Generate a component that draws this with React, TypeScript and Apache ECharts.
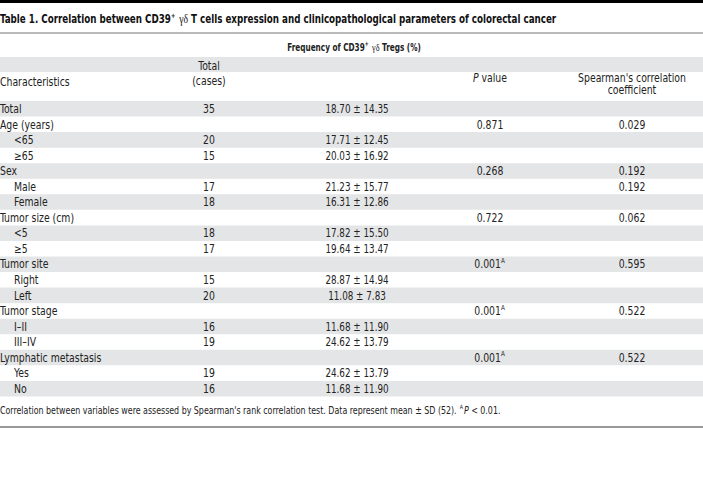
import React, { useEffect, useRef } from "react";
import * as echarts from "echarts";

const titleText = "Table 1. Correlation between CD39{sup|+} {g|γδ} T cells expression and clinicopathological parameters of colorectal cancer";
const groupHeader = "Frequency of CD39{sup|+} {g|γδ} Tregs (%)";
const colHeaders = ["Characteristics", "Total\n(cases)", "{i|P} value", "Spearman's correlation\ncoefficient"];

const characteristics = [
  "Total", "Age (years)", "<65", "≥65", "Sex", "Male", "Female",
  "Tumor size (cm)", "<5", "≥5", "Tumor site", "Right", "Left",
  "Tumor stage", "I–II", "III–IV", "Lymphatic metastasis", "Yes", "No",
];
const indented = [false, false, true, true, false, true, true, false, true, true, false, true, true, false, true, true, false, true, true];
const totalCases = ["35", "", "20", "15", "", "17", "18", "", "18", "17", "", "15", "20", "", "16", "19", "", "19", "16"];
const frequency = [
  "18.70 ± 14.35", "", "17.71 ± 12.45", "20.03 ± 16.92", "", "21.23 ± 15.77", "16.31 ± 12.86",
  "", "17.82 ± 15.50", "19.64 ± 13.47", "", "28.87 ± 14.94", "11.08 ± 7.83",
  "", "11.68 ± 11.90", "24.62 ± 13.79", "", "24.62 ± 13.79", "11.68 ± 11.90",
];
const pValues = ["", "0.871", "", "", "0.268", "", "", "0.722", "", "", "0.001{sup|A}", "", "", "0.001{sup|A}", "", "", "0.001{sup|A}", "", ""];
const spearman = ["", "0.029", "", "", "0.192", "0.192", "", "0.062", "", "", "0.595", "", "", "0.522", "", "", "0.522", "", ""];
const footnote = "Correlation between variables were assessed by Spearman's rank correlation test. Data represent mean ± SD (52). {sup|A}{i|P} < 0.01.";

const FONT = '"DejaVu Sans Condensed", "Liberation Sans Narrow", Roboto, sans-serif';
const SERIF = '"Liberation Serif", "DejaVu Serif", serif';
const TXT = "#222";
const BAND = "#e4e5e6";

const richBase = (size: number, weight: string, fill: string) => ({
  sup: { fontSize: Math.round(size * 0.62), fontFamily: FONT, fontWeight: weight as any, fill, verticalAlign: "top" as any, padding: [0, 1, 5, 0] },
  g: { fontSize: size, fontFamily: SERIF, fontWeight: "normal" as any, fill },
  i: { fontSize: size, fontFamily: FONT, fontStyle: "italic" as any, fontWeight: weight as any, fill },
});

export default function App() {
  const ref = useRef<HTMLDivElement>(null);
  useEffect(() => {
    document.body.style.margin = "0";
    if (!ref.current) return;
    const chart = echarts.init(ref.current, undefined, { renderer: "svg" });
    const W = 703;
    const rowTop = 101;
    const rowH = 15.55;
    const fs = 11.5;
    const sx = 0.9;
    const xChar = 0, xIndent = 14, xTotal = 209, xFreq = 357, xP = 490, xSp = 632;
    const els: any[] = [];
    const txt = (text: string, x: number, y: number, align: string, opts: any = {}) => {
      const size = opts.size || fs;
      const weight = opts.weight || "normal";
      const fill = opts.fill || TXT;
      els.push({
        type: "text",
        x, y,
        scaleX: opts.sx || sx,
        style: {
          text,
          fill,
          fontSize: size,
          fontFamily: FONT,
          fontWeight: weight,
          align,
          verticalAlign: "middle",
          lineHeight: opts.lineHeight || size + 3,
          rich: richBase(size, weight, fill),
        },
      });
    };
    // top black bar
    els.push({ type: "rect", shape: { x: 0, y: 0, width: W, height: 3 }, style: { fill: "#000" } });
    txt(titleText, 0, 19, "left", { size: 12, weight: "bold", fill: "#111", sx: 0.81 });
    els.push({ type: "rect", shape: { x: 0, y: 32.5, width: W, height: 1 }, style: { fill: "#777" } });
    txt(groupHeader, xFreq - 3, 47, "center", { weight: "bold", size: 11, sx: 0.74 });
    // header band
    els.push({ type: "rect", shape: { x: 0, y: 57, width: W, height: 15 }, style: { fill: BAND } });
    txt(colHeaders[0], xChar, 82, "left");
    txt(colHeaders[1], xTotal, 73.5, "center", { lineHeight: 15 });
    txt(colHeaders[2], xP, 78.5, "center");
    txt(colHeaders[3], xSp, 84, "center", { lineHeight: 12 });
    characteristics.forEach((c, i) => {
      const y0 = rowTop + i * rowH;
      if (i % 2 === 0) {
        els.push({ type: "rect", shape: { x: 0, y: y0, width: W, height: rowH }, style: { fill: BAND } });
      }
      const yc = y0 + rowH / 2 + 0.5;
      txt(c, indented[i] ? xIndent : xChar, yc, "left");
      if (totalCases[i]) txt(totalCases[i], xTotal, yc, "center");
      if (frequency[i]) txt(frequency[i], xFreq, yc, "center", { sx: 0.85 });
      if (pValues[i]) txt(pValues[i], xP, yc, "center");
      if (spearman[i]) txt(spearman[i], xSp, yc, "center");
    });
    txt(footnote, 0, 410, "left", { size: 10, sx: 0.88 });
    els.push({ type: "rect", shape: { x: 0, y: 426, width: W, height: 2 }, style: { fill: "#999" } });

    chart.setOption({ animation: false, graphic: { elements: els } });
    return () => chart.dispose();
  }, []);
  return <div ref={ref} style={{ width: 703, height: 480, position: "absolute", left: 0, top: 0, background: "#fff" }} />;
}
